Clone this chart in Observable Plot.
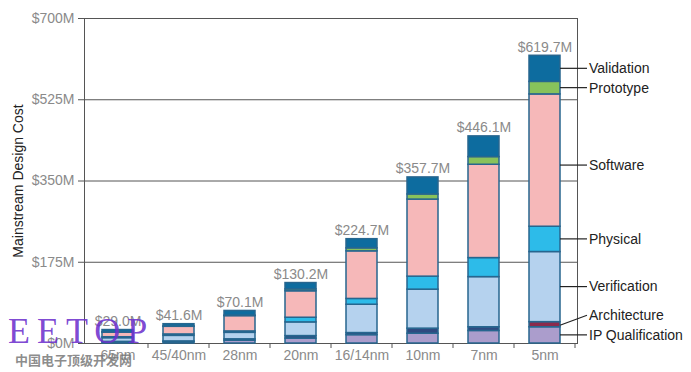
<!DOCTYPE html>
<html>
<head>
<meta charset="utf-8">
<script src="https://cdn.jsdelivr.net/npm/d3@7"></script>
<script src="https://cdn.jsdelivr.net/npm/@observablehq/plot@0.6"></script>
<style>
  html, body { margin: 0; padding: 0; background: #fff; }
  #wrap { position: relative; width: 691px; height: 372px; overflow: hidden; }
  #wm1 { position: absolute; left: 8px; top: 313px; font-family: "Liberation Serif", "DejaVu Serif", serif;
         font-size: 36px; line-height: 36px; letter-spacing: 7px; color: rgba(110, 50, 205, 0.9); pointer-events: none; }
  #wm2 { position: absolute; left: 15px; top: 350px; font-family: "Noto Sans CJK SC", sans-serif; font-weight: 700;
         font-size: 13px; color: rgba(120,120,120,0.85); pointer-events: none; }
</style>
</head>
<body>
<div id="wrap"><div id="chart"></div><div id="wm1">EETOP</div><div id="wm2">中国电子顶级开发网</div></div>
<script>
// ---- data ----
const nodes = ["65nm", "45/40nm", "28nm", "20nm", "16/14nm", "10nm", "7nm", "5nm"];
const totals = [29.0, 41.6, 70.1, 130.2, 224.7, 357.7, 446.1, 619.7];
const segments = ["IP Qualification", "Architecture", "Verification", "Physical", "Software", "Prototype", "Validation"];
const ipQualification = [2.5, 3, 6, 10.5, 18, 21, 27, 35];
const architecture    = [1, 1.5, 3, 5.5, 4.5, 11, 8, 11];
const verification    = [8, 12, 14, 29.5, 61, 84, 108, 151];
const physical        = [2, 3, 3, 10, 12.5, 28, 41, 54.5];
const software        = [10, 16.5, 33, 57, 102.5, 166, 201, 285];
const prototype       = [0.5, 0.6, 1, 4, 6.5, 11, 16.5, 27];
const validation      = [5.0, 5.0, 10.1, 13.7, 19.7, 36.7, 44.6, 56.2];
const yTicks = [0, 175, 350, 525, 700];

// ---- styles ----
const segColors = {
  "IP Qualification": "#ab9dcc",
  "Architecture": "#2f4a80",
  "Verification": "#b5d2ee",
  "Physical": "#2dbbe9",
  "Software": "#f6b8b9",
  "Prototype": "#88c25b",
  "Validation": "#0d6c9f"
};
const archHighlight = "#8b2a4c";
const labelDy = {"Software": 5, "Architecture": -9};
const gridColor = "#555";
const grayText = "#8a8a8a";

const seriesValues = [ipQualification, architecture, verification, physical, software, prototype, validation];
const rows = [];
nodes.forEach((node, i) => {
  segments.forEach((seg, s) => rows.push({node, seg, value: seriesValues[s][i]}));
});

// legend rows: midpoints of the 5nm segments
const lastIdx = nodes.length - 1;
let acc = 0;
const legendRows = segments.map((seg, s) => {
  const v = seriesValues[s][lastIdx];
  const mid = acc + v / 2;
  acc += v;
  return {seg, mid};
});

function bw(x) { return typeof x.bandwidth === "function" ? x.bandwidth() : x.bandwidth; }

function boundaryTicks(index, scales, values, dimensions) {
  const g = d3.create("svg:g");
  const x = scales.x, y0 = scales.y(0);
  const xs = nodes.slice(1).map(n => x(n));
  xs.push(x(nodes[lastIdx]) + bw(x));
  for (const px of xs) {
    g.append("line").attr("x1", px).attr("x2", px).attr("y1", y0).attr("y2", y0 + 5)
      .attr("stroke", gridColor).attr("stroke-width", 1);
  }
  return g.node();
}

function legendMark(index, scales, values, dimensions) {
  const g = d3.create("svg:g").attr("text-anchor", "start");
  const x = scales.x;
  const barRight = x(nodes[lastIdx]) + bw(x) - 15;
  const lineEnd = dimensions.width - dimensions.marginRight + 10;
  for (const r of legendRows) {
    const ym = scales.y(r.mid);
    const yl = ym + (labelDy[r.seg] || 0);
    const yStart = r.seg === "Architecture" ? ym + 1 : yl;
    g.append("line").attr("x1", barRight).attr("x2", lineEnd).attr("y1", yStart).attr("y2", yl)
      .attr("stroke", "#222").attr("stroke-width", 1.2);
    g.append("text").attr("x", lineEnd + 2).attr("y", yl).attr("dy", "0.35em")
      .attr("text-anchor", "start")
      .attr("fill", "#222").attr("font-size", 14).text(r.seg);
  }
  return g.node();
}

const chart = Plot.plot({
  width: 691,
  height: 372,
  marginLeft: 84,
  marginRight: 114,
  marginTop: 18,
  marginBottom: 29,
  style: {fontFamily: "'Liberation Sans', Arial, sans-serif", fontSize: "14px", background: "white", overflow: "visible"},
  x: {domain: nodes, padding: 0, label: null},
  y: {domain: [0, 700], label: null},
  color: {type: "identity"},
  marks: [
    Plot.ruleY(yTicks, {stroke: gridColor, strokeWidth: 1}),
    Plot.frame({anchor: "left", stroke: gridColor}),
    Plot.frame({anchor: "right", stroke: gridColor}),
    Plot.barY(rows, {
      x: "node", y: "value",
      fill: d => (d.seg === "Architecture" && d.node === nodes[lastIdx]) ? archHighlight : segColors[d.seg],
      stroke: "#27668f", strokeWidth: 1.5, insetLeft: 15, insetRight: 15
    }),
    Plot.text(nodes, {
      x: d => d, y: (d, i) => totals[i],
      text: (d, i) => `$${totals[i].toFixed(1)}M`,
      lineAnchor: "bottom", dy: -4, fill: grayText, fontSize: 14
    }),
    Plot.axisY(yTicks, {tickSize: 6, tickPadding: 4, tickFormat: d => `$${d}M`, fill: grayText, stroke: gridColor, label: null, fontSize: 14}),
    Plot.axisX({tickSize: 0, tickPadding: 7, fill: grayText, label: null, fontSize: 14}),
    Plot.text(["Mainstream Design Cost"], {frameAnchor: "left", dx: -66, rotate: -90, textAnchor: "middle", fill: "#222", fontSize: 14}),
    boundaryTicks,
    legendMark
  ]
});
document.getElementById("chart").appendChild(chart);
</script>
</body>
</html>
